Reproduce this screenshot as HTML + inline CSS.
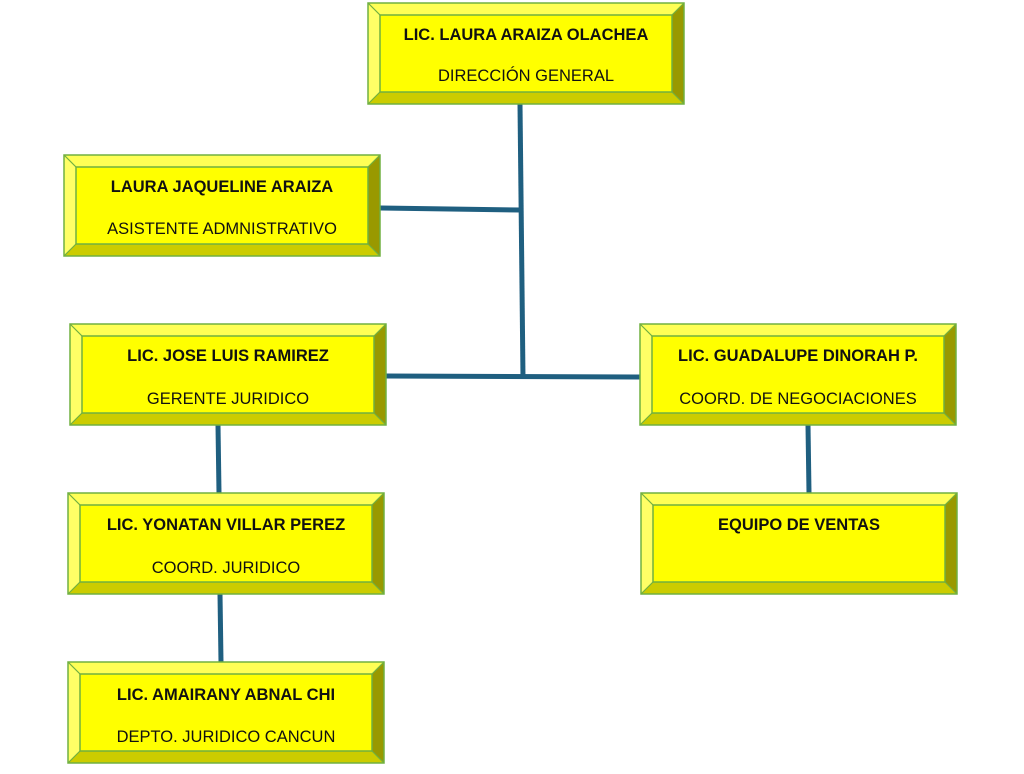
<!DOCTYPE html>
<html><head><meta charset="utf-8"><style>
html,body{margin:0;padding:0;background:#fff;width:1024px;height:774px;overflow:hidden}
text{font-family:"Liberation Sans",sans-serif;fill:#111}
.b{font-weight:bold;font-size:16.5px}
.n{font-size:16.5px}
</style></head><body>
<svg width="1024" height="774" viewBox="0 0 1024 774" xmlns="http://www.w3.org/2000/svg">
<g stroke="#1f5f80" stroke-width="5" fill="none">
<line x1="520" y1="104" x2="523" y2="378"/>
<line x1="380" y1="208" x2="520" y2="210"/>
<line x1="386" y1="376" x2="640" y2="377"/>
<line x1="218" y1="425" x2="219" y2="493"/>
<line x1="220" y1="594" x2="221" y2="662"/>
<line x1="808" y1="425" x2="809" y2="493"/>
</g>
<defs>
<g id="box">
<rect x="0" y="0" width="316" height="101" fill="#ffff00"/>
<polygon points="0,0 316,0 304,12 12,12" fill="#ffff55"/>
<polygon points="0,0 12,12 12,89 0,101" fill="#ffff66"/>
<polygon points="316,0 316,101 304,89 304,12" fill="#999900"/>
<polygon points="0,101 316,101 304,89 12,89" fill="#cccc00"/>
<rect x="12" y="12" width="292" height="77" fill="#ffff00" stroke="#70b040" stroke-width="1.5"/>
<g stroke="#70b040" stroke-width="1.2"><line x1="0" y1="0" x2="12" y2="12"/><line x1="316" y1="0" x2="304" y2="12"/><line x1="0" y1="101" x2="12" y2="89"/><line x1="316" y1="101" x2="304" y2="89"/></g>
<rect x="0" y="0" width="316" height="101" fill="none" stroke="#70b040" stroke-width="1.5"/>
</g>
</defs>
<use href="#box" x="368" y="3"/>
<use href="#box" x="64" y="155"/>
<use href="#box" x="70" y="324"/>
<use href="#box" x="640" y="324"/>
<use href="#box" x="68" y="493"/>
<use href="#box" x="641" y="493"/>
<use href="#box" x="68" y="662"/>
<g text-anchor="middle">
<text class="b" x="526" y="40">LIC. LAURA ARAIZA OLACHEA</text>
<text class="n" x="526" y="81">DIRECCIÓN GENERAL</text>
<text class="b" x="222" y="192">LAURA JAQUELINE ARAIZA</text>
<text class="n" x="222" y="234">ASISTENTE ADMNISTRATIVO</text>
<text class="b" x="228" y="361">LIC. JOSE LUIS RAMIREZ</text>
<text class="n" x="228" y="404">GERENTE JURIDICO</text>
<text class="b" x="798" y="361">LIC. GUADALUPE DINORAH P.</text>
<text class="n" x="798" y="404">COORD. DE NEGOCIACIONES</text>
<text class="b" x="226" y="530">LIC. YONATAN VILLAR PEREZ</text>
<text class="n" x="226" y="573">COORD. JURIDICO</text>
<text class="b" x="799" y="530">EQUIPO DE VENTAS</text>
<text class="b" x="226" y="700">LIC. AMAIRANY ABNAL CHI</text>
<text class="n" x="226" y="742">DEPTO. JURIDICO CANCUN</text>
</g>
</svg>
</body></html>
